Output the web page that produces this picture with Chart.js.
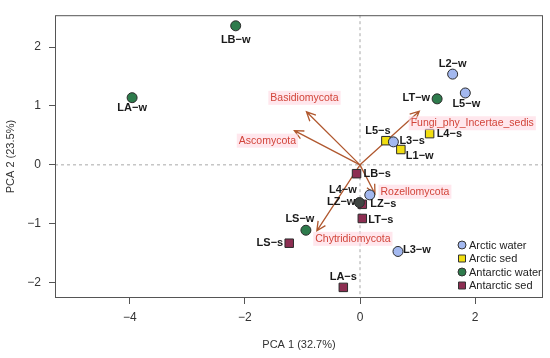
<!DOCTYPE html>
<html>
<head>
<meta charset="utf-8">
<script src="https://cdn.jsdelivr.net/npm/chart.js@4"></script>
<style>
  html, body { margin: 0; padding: 0; background: #fff; }
  #wrap { width: 550px; height: 358px; }
</style>
</head>
<body>
<div id="wrap"><canvas id="pcaChart" width="550" height="358"></canvas></div>
<script>
// sample scores (PCA 1, PCA 2) per group
const arcticWaterLabels = ['L2-w', 'L5-w', 'L3-s', 'L4-w', 'L3-w'];
const arcticWaterX = [1.61, 1.83, 0.58, 0.17, 0.66];
const arcticWaterY = [1.54, 1.22, 0.39, -0.51, -1.47];

const arcticSedLabels = ['L4-s', 'L5-s', 'L1-w'];
const arcticSedX = [1.21, 0.45, 0.71];
const arcticSedY = [0.53, 0.41, 0.26];

const antarcticWaterLabels = ['LB-w', 'LA-w', 'LT-w', 'LZ-w', 'LS-w'];
const antarcticWaterX = [-2.16, -3.96, 1.34, -0.01, -0.94];
const antarcticWaterY = [2.36, 1.14, 1.12, -0.64, -1.11];

const antarcticSedLabels = ['LB-s', 'LZ-s', 'LT-s', 'LS-s', 'LA-s'];
const antarcticSedX = [-0.06, 0.04, 0.04, -1.23, -0.29];
const antarcticSedY = [-0.15, -0.67, -0.91, -1.33, -2.08];

// loadings (arrows from origin)
const loadingNames = ['Basidiomycota', 'Ascomycota', 'Fungi_phy_Incertae_sedis', 'Rozellomycota', 'Chytridiomycota'];
const loadingX = [-0.93, -1.14, 1.03, 0.26, -0.75];
const loadingY = [0.90, 0.58, 0.91, -0.49, -1.12];

const xTicks = [-4, -2, 0, 2];
const yTicks = [-2, -1, 0, 1, 2];

// label placement (px offsets from marker, text alignment)
const labelPlace = {
  'L2-w': [0, -10, 'center'], 'L5-w': [1, 11, 'center'], 'L3-s': [6, -1, 'left'],
  'L4-w': [-13, -5, 'right'], 'L3-w': [5, -1, 'left'],
  'L4-s': [7, 0, 'left'], 'L5-s': [-8, -10, 'center'], 'L1-w': [5, 6, 'left'],
  'LB-w': [0, 14, 'center'], 'LA-w': [0, 10, 'center'], 'LT-w': [-7, -1, 'right'],
  'LZ-w': [-4, -1, 'right'], 'LS-w': [-6, -11, 'center'],
  'LB-s': [7, 0, 'left'], 'LZ-s': [8, 0, 'left'], 'LT-s': [6, 2, 'left'],
  'LS-s': [-6, 0, 'right'], 'LA-s': [0, -10, 'center']
};
const loadingLabelPlace = [[-2, -14], [-27, 10], [53, 12], [40, -2], [36, 8]];

function toPoints(xs, ys, labels) {
  return xs.map((x, i) => ({ x: x, y: ys[i], name: labels[i] }));
}

const zeroLines = {
  id: 'zeroLines',
  beforeDatasetsDraw(chart) {
    const { ctx, chartArea, scales } = chart;
    const x0 = scales.x.getPixelForValue(0);
    const y0 = scales.y.getPixelForValue(0);
    ctx.save();
    ctx.strokeStyle = '#a8a8a8';
    ctx.lineWidth = 1;
    ctx.setLineDash([3, 3]);
    ctx.beginPath();
    ctx.moveTo(x0, chartArea.top);
    ctx.lineTo(x0, chartArea.bottom);
    ctx.moveTo(chartArea.left, y0);
    ctx.lineTo(chartArea.right, y0);
    ctx.stroke();
    ctx.setLineDash([]);
    ctx.strokeStyle = '#555';
    ctx.strokeRect(chartArea.left + 0.5, chartArea.top + 0.5,
      chartArea.right - chartArea.left - 1, chartArea.bottom - chartArea.top - 1);

    // loading arrows
    ctx.strokeStyle = '#b0582f';
    ctx.lineWidth = 1.3;
    loadingX.forEach((lx, i) => {
      const tx = scales.x.getPixelForValue(lx);
      const ty = scales.y.getPixelForValue(loadingY[i]);
      const ang = Math.atan2(ty - y0, tx - x0);
      const head = 10;
      ctx.beginPath();
      ctx.moveTo(x0, y0);
      ctx.lineTo(tx, ty);
      ctx.moveTo(tx - head * Math.cos(ang - 0.45), ty - head * Math.sin(ang - 0.45));
      ctx.lineTo(tx, ty);
      ctx.lineTo(tx - head * Math.cos(ang + 0.45), ty - head * Math.sin(ang + 0.45));
      ctx.stroke();
    });
    ctx.restore();
  },
  afterDatasetsDraw(chart) {
    const { ctx, scales } = chart;
    ctx.save();
    // loading labels
    ctx.font = '10.5px "Liberation Sans", Arial, sans-serif';
    ctx.textAlign = 'center';
    ctx.textBaseline = 'middle';
    loadingNames.forEach((name, i) => {
      const tx = scales.x.getPixelForValue(loadingX[i]) + loadingLabelPlace[i][0];
      const ty = scales.y.getPixelForValue(loadingY[i]) + loadingLabelPlace[i][1];
      const w = ctx.measureText(name).width;
      ctx.fillStyle = 'rgba(255, 215, 225, 0.6)';
      ctx.fillRect(tx - w / 2 - 2, ty - 7, w + 4, 14);
      ctx.fillStyle = '#d2453a';
      ctx.fillText(name, tx, ty);
    });
    // sample labels
    ctx.font = 'bold 11px "Liberation Sans", Arial, sans-serif';
    ctx.fillStyle = '#1a1a1a';
    chart.data.datasets.forEach((ds, di) => {
      const meta = chart.getDatasetMeta(di);
      ds.data.forEach((p, i) => {
        const el = meta.data[i];
        const pl = labelPlace[p.name] || [6, 0, 'left'];
        ctx.textAlign = pl[2];
        ctx.fillText(p.name.replace('-', '\u2212'), el.x + pl[0], el.y + pl[1]);
      });
    });
    // legend
    ctx.font = '11px "Liberation Sans", Arial, sans-serif';
    ctx.textAlign = 'left';
    const lx = 462, ly = 245, step = 13.5;
    chart.data.datasets.forEach((ds, di) => {
      const y = ly + di * step;
      ctx.fillStyle = ds.backgroundColor;
      ctx.strokeStyle = '#333';
      ctx.lineWidth = 1;
      ctx.beginPath();
      if (ds.pointStyle === 'rect') {
        ctx.rect(lx - 3.5, y - 3.5, 7, 7);
      } else {
        ctx.arc(lx, y, 4, 0, Math.PI * 2);
      }
      ctx.fill();
      ctx.stroke();
      ctx.fillStyle = '#222';
      ctx.fillText(ds.label, lx + 7, y + 0.5);
    });
    ctx.restore();
  }
};

const ctx = document.getElementById('pcaChart').getContext('2d');
new Chart(ctx, {
  type: 'scatter',
  data: {
    datasets: [
      {
        label: 'Arctic water',
        data: toPoints(arcticWaterX, arcticWaterY, arcticWaterLabels),
        backgroundColor: '#a3b8ef',
        borderColor: '#2b2b2b',
        pointStyle: 'circle',
        pointRadius: 5,
        borderWidth: 1
      },
      {
        label: 'Arctic sed',
        data: toPoints(arcticSedX, arcticSedY, arcticSedLabels),
        backgroundColor: '#f1de10',
        borderColor: '#2b2b2b',
        pointStyle: 'rect',
        pointRadius: 6,
        borderWidth: 1
      },
      {
        label: 'Antarctic water',
        data: toPoints(antarcticWaterX, antarcticWaterY, antarcticWaterLabels),
        backgroundColor: '#2e7b4c',
        pointBackgroundColor: ['#2e7b4c', '#2e7b4c', '#2e7b4c', '#3f4542', '#2e7b4c'],
        borderColor: '#2b2b2b',
        pointStyle: 'circle',
        pointRadius: 5,
        borderWidth: 1
      },
      {
        label: 'Antarctic sed',
        data: toPoints(antarcticSedX, antarcticSedY, antarcticSedLabels),
        backgroundColor: '#8d2e52',
        borderColor: '#2b2b2b',
        pointStyle: 'rect',
        pointRadius: 6,
        borderWidth: 1
      }
    ]
  },
  options: {
    responsive: false,
    animation: false,
    layout: { padding: { top: 9, right: 7, left: 0, bottom: 0 } },
    plugins: {
      legend: { display: false },
      tooltip: { enabled: false }
    },
    scales: {
      x: {
        type: 'linear',
        min: -5.3,
        max: 3.18,
        afterBuildTicks: (scale) => { scale.ticks = xTicks.map(v => ({ value: v })); },
        afterFit: (scale) => { scale.height = 60; },
        grid: { display: true, drawOnChartArea: false, drawTicks: true, tickLength: 6, color: '#555' },
        border: { display: false },
        ticks: {
          color: '#333',
          padding: 6,
          font: { size: 12, family: '"Liberation Sans", Arial, sans-serif' },
          callback: (v) => String(v).replace('-', '\u2212')
        },
        title: {
          display: true,
          text: 'PCA 1 (32.7%)',
          color: '#333',
          font: { size: 11, family: '"Liberation Sans", Arial, sans-serif' },
          padding: { top: 0, bottom: 6 }
        }
      },
      y: {
        type: 'linear',
        min: -2.26,
        max: 2.54,
        afterBuildTicks: (scale) => { scale.ticks = yTicks.map(v => ({ value: v })); },
        afterFit: (scale) => { scale.width = 55; },
        grid: { display: true, drawOnChartArea: false, drawTicks: true, tickLength: 6, color: '#555' },
        border: { display: false },
        ticks: {
          color: '#333',
          padding: 8,
          font: { size: 12, family: '"Liberation Sans", Arial, sans-serif' },
          callback: (v) => String(v).replace('-', '\u2212')
        },
        title: {
          display: true,
          text: 'PCA 2 (23.5%)',
          color: '#333',
          font: { size: 11, family: '"Liberation Sans", Arial, sans-serif' },
          padding: { top: 4, bottom: 0 }
        }
      }
    }
  },
  plugins: [zeroLines]
});
</script>
</body>
</html>
